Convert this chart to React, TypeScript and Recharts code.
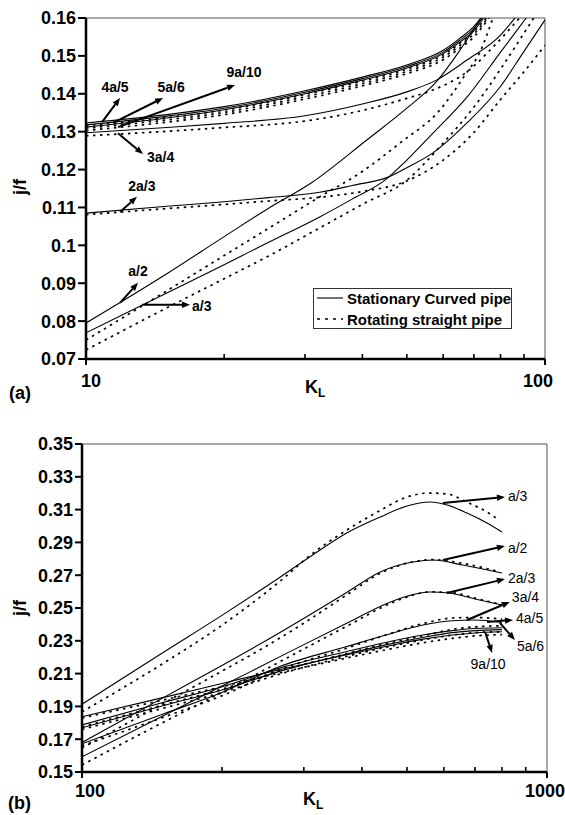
import React from "react";
import { LineChart, Line, XAxis, YAxis, ReferenceLine } from "recharts";

const FONT = '"Liberation Sans", Arial, Helvetica, sans-serif';

// ---- chart (a): 10 <= K_L <= 100, pairs of [K_L, j/f] ----
const TOP_A3_SOLID = [[10, 0.0769], [15, 0.0874], [20, 0.0949], [25, 0.1008], [32.3, 0.1075], [38, 0.1122], [44.8, 0.1172], [50, 0.1225], [57, 0.1296], [67.6, 0.1391], [79.8, 0.1508], [91, 0.16]];
const TOP_A3_DASH = [[10, 0.0724], [15, 0.0835], [20, 0.0912], [25, 0.0972], [32.3, 0.1046], [40, 0.1108], [50, 0.1172], [60, 0.127], [70, 0.1365], [80, 0.1465], [90, 0.156], [94.5, 0.16]];
const TOP_A2_SOLID = [[10, 0.0795], [15, 0.0925], [20, 0.1023], [25, 0.1098], [31, 0.1165], [40.9, 0.1278], [50, 0.1362], [58.4, 0.1436], [65, 0.1512], [72.5, 0.16]];
const TOP_A2_DASH = [[10, 0.075], [15, 0.088], [20, 0.0973], [25, 0.1045], [32.3, 0.1128], [40, 0.1195], [48.3, 0.127], [59, 0.1357], [67, 0.145], [72, 0.1508], [77, 0.16]];
const TOP_23_SOLID = [[10, 0.1085], [15, 0.1103], [20, 0.1115], [25, 0.1126], [32.3, 0.114], [38, 0.1158], [45.5, 0.118], [50, 0.1205], [57, 0.1244], [67.6, 0.1323], [79.8, 0.1418], [90, 0.1512], [100, 0.1595]];
const TOP_23_DASH = [[10, 0.1081], [15, 0.1097], [20, 0.1108], [25, 0.1117], [32.3, 0.1127], [40, 0.1142], [50, 0.117], [60, 0.1225], [70, 0.1298], [80, 0.1385], [90, 0.1458], [100, 0.1528]];
const TOP_34_SOLID = [[10, 0.1297], [15, 0.1311], [20, 0.1322], [30, 0.1342], [40, 0.1373], [50, 0.1405], [58, 0.1436], [67.6, 0.1489], [80, 0.1555], [86, 0.16]];
const TOP_34_DASH = [[10, 0.1289], [15, 0.1301], [20, 0.1311], [30, 0.1328], [40, 0.1356], [50, 0.1388], [57, 0.141], [67.6, 0.1458], [77, 0.1523], [88, 0.16]];
const TOP_45_SOLID = [[10, 0.1323], [15, 0.1345], [20, 0.1366], [30, 0.1408], [40, 0.1444], [50, 0.1476], [60, 0.1515], [65, 0.1545], [70, 0.1578], [72.5, 0.16]];
const TOP_45_DASH = [[10, 0.1316], [15, 0.1337], [20, 0.1357], [30, 0.1398], [40, 0.1433], [50, 0.1465], [60, 0.1503], [65, 0.1532], [70, 0.1565], [74.5, 0.16]];
const TOP_56_SOLID = [[10, 0.1318], [15, 0.1341], [20, 0.1362], [30, 0.1404], [40, 0.144], [50, 0.1472], [60, 0.151], [65, 0.154], [70, 0.1572], [73, 0.16]];
const TOP_56_DASH = [[10, 0.1309], [15, 0.1331], [20, 0.1351], [30, 0.1392], [40, 0.1427], [50, 0.1459], [60, 0.1497], [65, 0.1526], [70, 0.1558], [75, 0.16]];
const TOP_910_SOLID = [[10, 0.1312], [15, 0.1336], [20, 0.1358], [30, 0.14], [40, 0.1436], [50, 0.1468], [60, 0.1506], [65, 0.1535], [70, 0.1566], [73.5, 0.16]];
const TOP_910_DASH = [[10, 0.1303], [15, 0.1325], [20, 0.1345], [30, 0.1386], [40, 0.1421], [50, 0.1453], [60, 0.149], [65, 0.1519], [70, 0.155], [75.5, 0.16]];

// ---- chart (b): 100 <= K_L <= 1000 ----
const BOT_A3_SOLID = [[100, 0.1913], [150, 0.2232], [200, 0.2455], [267, 0.2689], [314, 0.2825], [371, 0.2957], [438, 0.3055], [500, 0.3122], [560, 0.3146], [610, 0.3128], [673, 0.3079], [743, 0.3018], [800, 0.2963]];
const BOT_A3_DASH = [[100, 0.1867], [150, 0.2165], [200, 0.2395], [267, 0.2665], [314, 0.2835], [371, 0.2975], [438, 0.3095], [500, 0.3177], [560, 0.3201], [610, 0.3195], [673, 0.3145], [743, 0.3085], [790, 0.3035]];
const BOT_A2_SOLID = [[100, 0.168], [150, 0.1955], [200, 0.215], [250, 0.2305], [299, 0.2435], [371, 0.2595], [438, 0.272], [515, 0.278], [569, 0.2793], [659, 0.2762], [800, 0.2713]];
const BOT_A2_DASH = [[100, 0.1646], [150, 0.192], [200, 0.2115], [250, 0.227], [299, 0.2405], [371, 0.258], [438, 0.2712], [515, 0.2782], [569, 0.2795], [659, 0.2772], [780, 0.2725]];
const BOT_23_SOLID = [[100, 0.1593], [150, 0.1845], [200, 0.2024], [280, 0.2234], [383, 0.2427], [450, 0.2525], [500, 0.2572], [560, 0.2598], [620, 0.259], [700, 0.2555], [800, 0.2518]];
const BOT_23_DASH = [[100, 0.1543], [150, 0.1805], [200, 0.1985], [280, 0.2205], [383, 0.241], [450, 0.2515], [500, 0.2567], [560, 0.2598], [620, 0.2595], [700, 0.256], [800, 0.252]];
const BOT_34_SOLID = [[100, 0.1672], [150, 0.1855], [200, 0.1985], [267, 0.2145], [371, 0.2265], [450, 0.2335], [541, 0.2396], [626, 0.2422], [700, 0.2427], [800, 0.2412]];
const BOT_34_DASH = [[100, 0.166], [150, 0.1835], [200, 0.1965], [267, 0.2125], [371, 0.2255], [450, 0.2335], [541, 0.2405], [626, 0.2439], [700, 0.2442], [800, 0.2432]];
const BOT_45_SOLID = [[100, 0.1787], [150, 0.1925], [200, 0.202], [267, 0.2135], [371, 0.2235], [450, 0.229], [541, 0.2335], [626, 0.2362], [700, 0.2375], [800, 0.238]];
const BOT_45_DASH = [[100, 0.1775], [150, 0.191], [200, 0.2005], [267, 0.2118], [371, 0.2222], [450, 0.2282], [541, 0.233], [626, 0.237], [700, 0.2385], [800, 0.2392]];
const BOT_56_SOLID = [[100, 0.177], [150, 0.1905], [200, 0.2], [267, 0.2115], [371, 0.222], [450, 0.2275], [541, 0.232], [626, 0.235], [700, 0.2362], [800, 0.2368]];
const BOT_56_DASH = [[100, 0.176], [150, 0.189], [200, 0.1985], [267, 0.2098], [371, 0.2205], [450, 0.226], [541, 0.2305], [626, 0.2335], [700, 0.235], [800, 0.2355]];
const BOT_910_SOLID = [[100, 0.1837], [150, 0.1955], [200, 0.204], [267, 0.2125], [371, 0.2215], [450, 0.2265], [541, 0.231], [626, 0.2335], [700, 0.2348], [800, 0.2355]];
const BOT_910_DASH = [[100, 0.183], [150, 0.194], [200, 0.202], [267, 0.2105], [371, 0.2195], [450, 0.2245], [541, 0.2288], [626, 0.2315], [700, 0.233], [800, 0.2338]];

// ticks
const TOP_X_TICKS = [10, 20, 30, 40, 50, 60, 70, 80, 90, 100];
const TOP_Y_TICKS = [0.07, 0.08, 0.09, 0.1, 0.11, 0.12, 0.13, 0.14, 0.15, 0.16];
const BOT_X_TICKS = [100, 200, 300, 400, 500, 600, 700, 800, 900, 1000];
const BOT_Y_TICKS = [0.15, 0.17, 0.19, 0.21, 0.23, 0.25, 0.27, 0.29, 0.31, 0.33, 0.35];

// arrow annotations: tail (on curve) -> head, in data units
const TOP_ARROWS = [
  { text: "4a/5", from: [10.84, 0.1325], to: [11.86, 0.1389], dx: -5, dy: -11, anchor: "middle" },
  { text: "5a/6", from: [11.45, 0.1323], to: [14.72, 0.1389], dx: 8, dy: -11, anchor: "middle" },
  { text: "9a/10", from: [11.74, 0.1312], to: [21.12, 0.1423], dx: 9, dy: -13, anchor: "middle" },
  { text: "3a/4", from: [11.74, 0.1296], to: [13.31, 0.1241], dx: 4, dy: 3, anchor: "start" },
  { text: "2a/3", from: [11.86, 0.1088], to: [12.91, 0.1128], dx: 5, dy: -11, anchor: "middle" },
  { text: "a/2", from: [11.86, 0.0848], to: [12.98, 0.0901], dx: 0, dy: -12, anchor: "middle" },
  { text: "a/3", from: [13.24, 0.0843], to: [16.85, 0.0843], dx: 2, dy: 1, anchor: "start" },
];
const BOT_ARROWS = [
  { text: "a/3", from: [597, 0.314], to: [812, 0.3177], dx: 3, dy: -1, anchor: "start" },
  { text: "a/2", from: [597, 0.2793], to: [812, 0.2878], dx: 3, dy: 2, anchor: "start" },
  { text: "2a/3", from: [609, 0.2591], to: [812, 0.2677], dx: 3, dy: -1, anchor: "start" },
  { text: "3a/4", from: [673, 0.2427], to: [832, 0.2537], dx: 2, dy: -5, anchor: "start" },
  { text: "4a/5", from: [743, 0.2415], to: [845, 0.2427], dx: 3, dy: -2, anchor: "start" },
  { text: "5a/6", from: [792, 0.2409], to: [853, 0.2305], dx: 2, dy: 6, anchor: "start" },
  { text: "9a/10", from: [736, 0.2354], to: [762, 0.2226], dx: -4, dy: 11, anchor: "middle" },
];

const TOP_SERIES = [
  { id: "a3s", pts: TOP_A3_SOLID, dash: false }, { id: "a3d", pts: TOP_A3_DASH, dash: true },
  { id: "a2s", pts: TOP_A2_SOLID, dash: false }, { id: "a2d", pts: TOP_A2_DASH, dash: true },
  { id: "23s", pts: TOP_23_SOLID, dash: false }, { id: "23d", pts: TOP_23_DASH, dash: true },
  { id: "34s", pts: TOP_34_SOLID, dash: false }, { id: "34d", pts: TOP_34_DASH, dash: true },
  { id: "45s", pts: TOP_45_SOLID, dash: false }, { id: "45d", pts: TOP_45_DASH, dash: true },
  { id: "56s", pts: TOP_56_SOLID, dash: false }, { id: "56d", pts: TOP_56_DASH, dash: true },
  { id: "910s", pts: TOP_910_SOLID, dash: false }, { id: "910d", pts: TOP_910_DASH, dash: true },
];
const BOT_SERIES = [
  { id: "a3s", pts: BOT_A3_SOLID, dash: false }, { id: "a3d", pts: BOT_A3_DASH, dash: true },
  { id: "a2s", pts: BOT_A2_SOLID, dash: false }, { id: "a2d", pts: BOT_A2_DASH, dash: true },
  { id: "23s", pts: BOT_23_SOLID, dash: false }, { id: "23d", pts: BOT_23_DASH, dash: true },
  { id: "34s", pts: BOT_34_SOLID, dash: false }, { id: "34d", pts: BOT_34_DASH, dash: true },
  { id: "45s", pts: BOT_45_SOLID, dash: false }, { id: "45d", pts: BOT_45_DASH, dash: true },
  { id: "56s", pts: BOT_56_SOLID, dash: false }, { id: "56d", pts: BOT_56_DASH, dash: true },
  { id: "910s", pts: BOT_910_SOLID, dash: false }, { id: "910d", pts: BOT_910_DASH, dash: true },
];

const toRows = (pts: number[][]) => pts.map(([k, v]) => ({ k, v }));
const fmtY = (v: number) => String(Number(v.toFixed(2)));

function makeXTick(min: number, max: number, shift: Record<number, number>, labelDy: number) {
  return (props: any) => {
    const { x, y, payload } = props;
    const v = payload.value;
    if (v === min || v === max) {
      return (
        <g>
          <line x1={x} y1={y} x2={x} y2={y + 6} stroke="#000" strokeWidth={2} />
          <text x={x + (shift[v] || 0)} y={y + labelDy} textAnchor="middle" fontSize={18} fontWeight="bold" fill="#000">
            {v}
          </text>
        </g>
      );
    }
    return <line x1={x} y1={y} x2={x} y2={y - 5} stroke="#000" strokeWidth={1.6} />;
  };
}

function arrowShape(a: any, bold: boolean) {
  return (p: any) => {
    const { x1, y1, x2, y2 } = p;
    if (x1 == null || x2 == null) return <g />;
    const ang = Math.atan2(y2 - y1, x2 - x1);
    const L = 8;
    const W = 3.2;
    const bx = x2 - L * Math.cos(ang);
    const by = y2 - L * Math.sin(ang);
    const px = -Math.sin(ang) * W;
    const py = Math.cos(ang) * W;
    return (
      <g>
        <line x1={x1} y1={y1} x2={bx} y2={by} stroke="#000" strokeWidth={2} />
        <polygon points={`${x2},${y2} ${bx + px},${by + py} ${bx - px},${by - py}`} fill="#000" />
        <text
          x={x2 + a.dx}
          y={y2 + a.dy}
          textAnchor={a.anchor}
          dominantBaseline="central"
          fontSize={14}
          fontWeight={bold ? "bold" : "normal"}
          fill="#000"
        >
          {a.text}
        </text>
      </g>
    );
  };
}

function Panel(props: any) {
  const { series, arrows, xDomain, xTicks, yDomain, yTicks, width, height, margin, yWidth, xHeight, shift, labelDy, bold, yTickSize } = props;
  return (
    <LineChart width={width} height={height} margin={margin}>
      <XAxis
        type="number"
        dataKey="k"
        scale="log"
        domain={xDomain}
        ticks={xTicks}
        interval={0}
        height={xHeight}
        tickLine={false}
        tickSize={0}
        tickMargin={0}
        axisLine={{ stroke: "#000", strokeWidth: 2.5 }}
        tick={makeXTick(xDomain[0], xDomain[1], shift, labelDy)}
        allowDataOverflow
      />
      <YAxis
        type="number"
        domain={yDomain}
        ticks={yTicks}
        interval={0}
        width={yWidth}
        tickFormatter={fmtY}
        tickSize={yTickSize}
        tickMargin={2}
        axisLine={{ stroke: "#000", strokeWidth: 2.5 }}
        tickLine={{ stroke: "#000", strokeWidth: 2 }}
        tick={{ fill: "#000", fontSize: 18, fontWeight: "bold" }}
        allowDataOverflow
      />
      <ReferenceLine y={yDomain[1]} stroke="#555" strokeWidth={1} />
      <ReferenceLine x={xDomain[1]} stroke="#555" strokeWidth={1} />
      {series.map((s: any) => (
        <Line
          key={s.id}
          data={toRows(s.pts)}
          dataKey="v"
          type="monotone"
          stroke="#000"
          strokeWidth={s.dash ? 1.7 : 1.1}
          strokeDasharray={s.dash ? "2.5 4.5" : undefined}
          dot={false}
          activeDot={false}
          isAnimationActive={false}
        />
      ))}
      {arrows.map((a: any) => (
        <ReferenceLine
          key={a.text}
          segment={[{ x: a.from[0], y: a.from[1] }, { x: a.to[0], y: a.to[1] }]}
          shape={arrowShape(a, bold)}
        />
      ))}
    </LineChart>
  );
}

export default function App() {
  return (
    <div style={{ position: "absolute", left: 0, top: 0, width: 565, height: 815, background: "#fff", fontFamily: FONT }}>
      <div style={{ position: "absolute", left: 0, top: 0 }}>
        <Panel
          series={TOP_SERIES}
          arrows={TOP_ARROWS}
          xDomain={[10, 100]}
          xTicks={TOP_X_TICKS}
          yDomain={[0.07, 0.16]}
          yTicks={TOP_Y_TICKS}
          width={565}
          height={400}
          margin={{ top: 18, right: 20, bottom: 0, left: 0 }}
          yWidth={86}
          xHeight={41}
          shift={{ 10: 5, 100: -7 }}
          labelDy={28}
          bold={true}
          yTickSize={8}
        />
      </div>
      <div style={{ position: "absolute", left: 0, top: 410 }}>
        <Panel
          series={BOT_SERIES}
          arrows={BOT_ARROWS}
          xDomain={[100, 1000]}
          xTicks={BOT_X_TICKS}
          yDomain={[0.15, 0.35]}
          yTicks={BOT_Y_TICKS}
          width={565}
          height={405}
          margin={{ top: 34, right: 18, bottom: 0, left: 0 }}
          yWidth={82}
          xHeight={43}
          shift={{ 100: 8, 1000: -2 }}
          labelDy={25}
          bold={false}
          yTickSize={7}
        />
      </div>
      <svg width={565} height={815} style={{ position: "absolute", left: 0, top: 0, pointerEvents: "none" }}>
        <g fontWeight="bold" fill="#000">
          <text x={20} y={187} fontSize={18} textAnchor="middle" dominantBaseline="central" transform="rotate(-90 20 187)">j/f</text>
          <text x={20} y={608} fontSize={18} textAnchor="middle" dominantBaseline="central" transform="rotate(-90 20 608)">j/f</text>
          <text x={305} y={393} fontSize={18}>K<tspan fontSize={12} dy={4}>L</tspan></text>
          <text x={303} y={805} fontSize={18}>K<tspan fontSize={12} dy={4}>L</tspan></text>
          <text x={9} y={399} fontSize={18}>(a)</text>
          <text x={8} y={809} fontSize={18}>(b)</text>
        </g>
        <g>
          <rect x={313.5} y={288.5} width={198} height={40} fill="#fff" stroke="#333" strokeWidth={1} />
          <line x1={317} y1={298} x2={343} y2={298} stroke="#000" strokeWidth={1.1} />
          <line x1={317} y1={319} x2={343} y2={319} stroke="#000" strokeWidth={1.7} strokeDasharray="3 5" />
          <text x={347} y={298} fontSize={15} fontWeight="bold" dominantBaseline="central" fill="#000">Stationary Curved pipe</text>
          <text x={347} y={319} fontSize={15} fontWeight="bold" dominantBaseline="central" fill="#000">Rotating straight pipe</text>
        </g>
      </svg>
    </div>
  );
}
